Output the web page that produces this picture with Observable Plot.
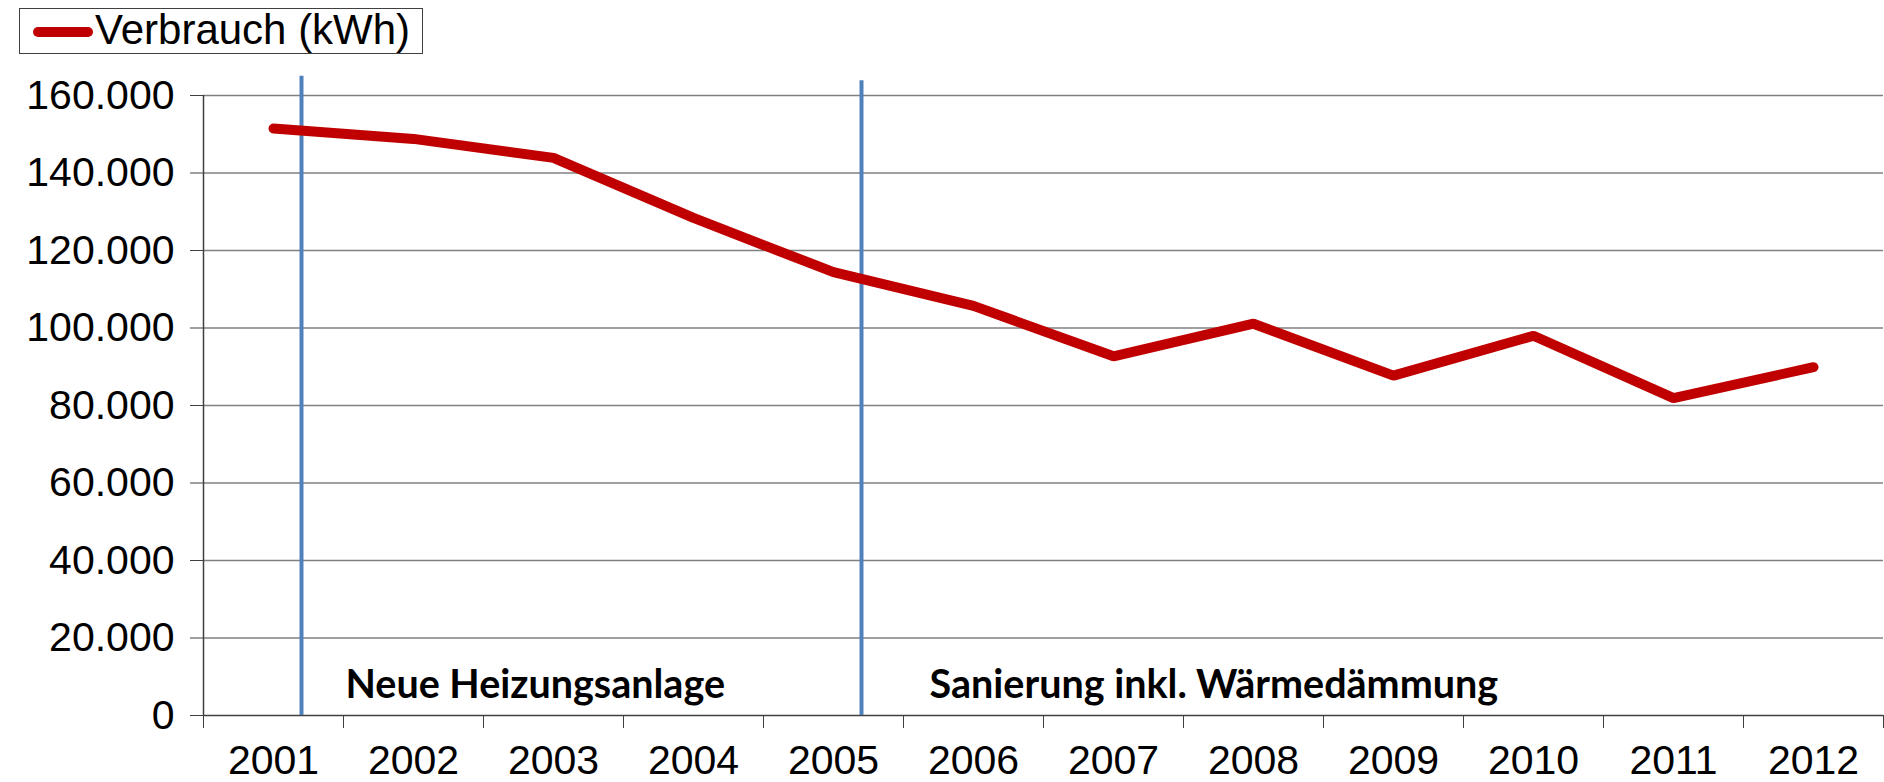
<!DOCTYPE html>
<html>
<head>
<meta charset="utf-8">
<script src="https://cdn.jsdelivr.net/npm/d3@7"></script>
<script src="https://cdn.jsdelivr.net/npm/@observablehq/plot@0.6"></script>
<style>
  html, body { margin: 0; padding: 0; background: #fff; }
  #legend { position: relative; width: 1884px; height: 58px; font-family: "Liberation Sans", Arial, sans-serif; }
  #legend .box { position: absolute; left: 19px; top: 8px; width: 402px; height: 44px; border: 1px solid #404040; }
  #legend .sw { position: absolute; left: 13px; top: 18px; width: 60px; height: 10px; border-radius: 5px; background: #C00000; }
  #legend .tx { position: absolute; left: 75px; top: 0px; font-size: 42px; line-height: 42px; color: #000; white-space: nowrap; }
</style>
</head>
<body>
<div id="legend"><div class="box"><span class="sw"></span><span class="tx">Verbrauch (kWh)</span></div></div>
<div id="chart"></div>
<script>
const years = [2001, 2002, 2003, 2004, 2005, 2006, 2007, 2008, 2009, 2010, 2011, 2012];
const verbrauch = [151500, 148800, 143900, 128400, 114400, 105700, 92700, 101100, 87700, 98000, 81900, 89900];
const yTicks = [0, 20000, 40000, 60000, 80000, 100000, 120000, 140000, 160000];
const boundaries = [2000.5, 2001.5, 2002.5, 2003.5, 2004.5, 2005.5, 2006.5, 2007.5, 2008.5, 2009.5, 2010.5, 2011.5, 2012.5];
const eventX = [2001.2, 2005.2];
const eventTop = [165000, 163800];
const annoLabels = ["Neue Heizungsanlage", "Sanierung inkl. Wärmedämmung"];
const annoX = [2001.514, 2005.686];
const annoY = [7700, 7700];

const de = d3.formatLocale({decimal: ",", thousands: ".", grouping: [3], currency: ["", " €"]});
const fmt = de.format(",d");

const data = years.map((y, i) => ({year: y, value: verbrauch[i]}));
const events = eventX.map((x, i) => ({x, top: eventTop[i]}));
const annos = annoLabels.map((t, i) => ({t, x: annoX[i], y: annoY[i]}));

const chart = Plot.plot({
  width: 1884,
  height: 724,
  marginLeft: 203,
  marginRight: 1,
  marginTop: 37,
  marginBottom: 67,
  style: {fontFamily: "'Liberation Sans', Arial, sans-serif", color: "#000", background: "#fff"},
  x: {domain: [2000.5, 2012.5]},
  y: {domain: [0, 160000]},
  marks: [
    Plot.ruleY(yTicks.slice(1), {x1: 2000.5, x2: 2012.5, stroke: "#808080", strokeWidth: 1.5}),
    Plot.ruleY([0], {x1: 2000.5, x2: 2012.5, stroke: "#404040", strokeWidth: 1.5}),
    Plot.ruleX([2000.5], {y1: 0, y2: 160000, stroke: "#404040", strokeWidth: 1.5}),
    Plot.axisY(yTicks, {tickFormat: fmt, tickSize: 13, tickPadding: 16, fontSize: 41, stroke: "#404040", fill: "#000"}),
    Plot.axisX(boundaries, {tickFormat: () => "", tickSize: 13, stroke: "#404040"}),
    Plot.axisX(years, {tickFormat: d => String(d), tickSize: 0, tickPadding: 29, fontSize: 41, fill: "#000"}),
    Plot.ruleX(events, {x: "x", y1: 0, y2: "top", stroke: "#4F81BD", strokeWidth: 4}),
    Plot.line(data, {x: "year", y: "value", stroke: "#C00000", strokeWidth: 10, strokeLinecap: "round", strokeLinejoin: "miter"}),
    Plot.text(annos, {x: "x", y: "y", text: "t", textAnchor: "start", lineAnchor: "middle", fontFamily: "Lato, 'Open Sans', sans-serif", fontWeight: "bold", fontSize: 39.5, fill: "#000"})
  ]
});
document.getElementById("chart").appendChild(chart);
</script>
</body>
</html>
